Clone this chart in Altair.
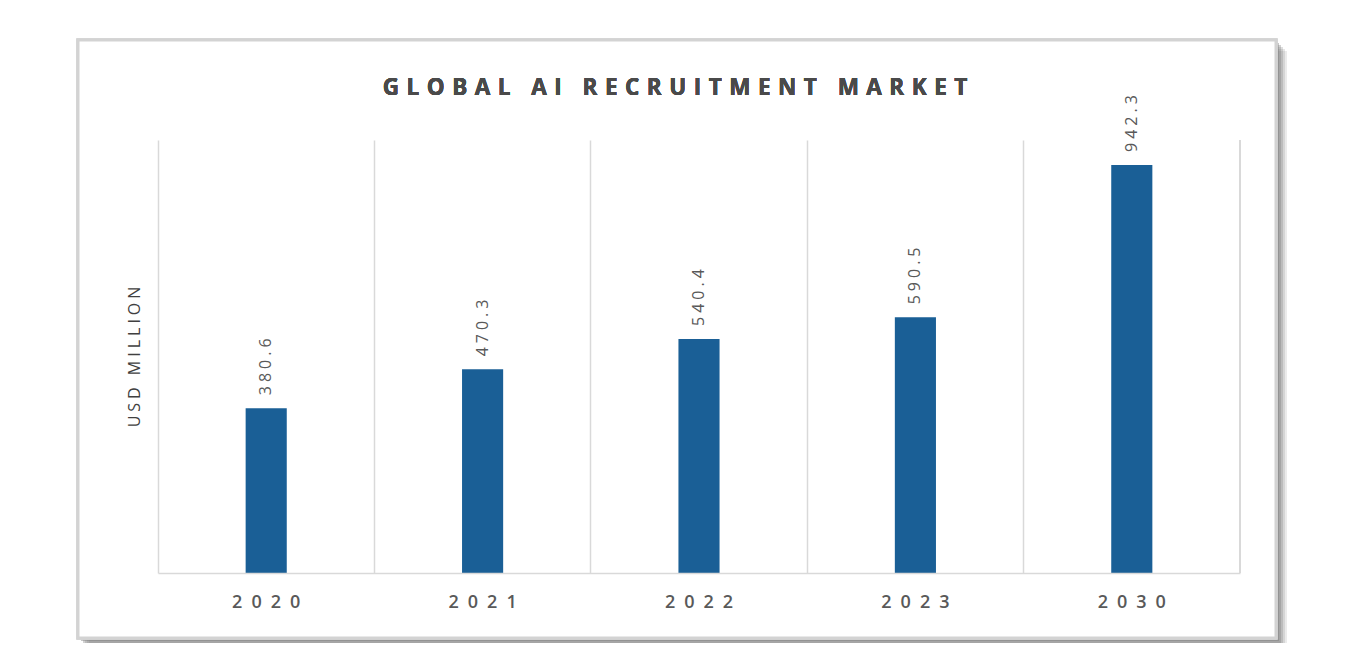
import altair as alt
import pandas as pd

years = ["2020", "2021", "2022", "2023", "2030"]
values = [380.6, 470.3, 540.4, 590.5, 942.3]
labels = ["380.6", "470.3", "540.4", "590.5", "942.3"]
title_text = "GLOBAL AI RECRUITMENT MARKET"
y_title = "USD MILLION"

# letter-spaced look (Vega text has no letterSpacing): join glyphs with narrow unicode spaces
def spaced(s, sp):
    return sp.join(list(s))

df = pd.DataFrame({
    "year": years,
    "value": values,
    "label": [spaced(l, "\u2005") for l in labels],
})

W, H = 1082, 433
FONT = "Open Sans"

base = alt.Chart(df)

# card frame with a soft shadow
shadow_layers = []
for i, op in enumerate([0.10, 0.08, 0.06, 0.04, 0.03]):
    off = 3 + i * 2
    shadow_layers.append(
        base.mark_rect(color="#808080", opacity=op).encode(
            x=alt.value(-80 + off), x2=alt.value(1118 + off),
            y=alt.value(-100 + off), y2=alt.value(498 + off),
        )
    )
frame = base.mark_rect(color="white", stroke="#d3d3d3", strokeWidth=3).encode(
    x=alt.value(-80), x2=alt.value(1118), y=alt.value(-100), y2=alt.value(498)
)

xenc = alt.X(
    "year:N", sort=years, title=None,
    scale=alt.Scale(paddingInner=0, paddingOuter=0),
    axis=alt.Axis(
        grid=True, bandPosition=0, gridColor="#d9d9d9", gridWidth=1.5,
        domainColor="#d9d9d9", domainWidth=1.5, ticks=False,
        labelFont=FONT, labelFontSize=18, labelColor="#595959",
        labelFontWeight=600,
        labelPadding=20, labelAngle=0, zindex=1,
        labelExpr="join(split(datum.label, ''), '\u2002')",
    ),
)
yenc = alt.Y(
    "value:Q", title=spaced(y_title, "\u2005"),
    scale=alt.Scale(domain=[0, 1000]),
    axis=alt.Axis(
        grid=False, labels=False, ticks=False, domain=False,
        titleFont=FONT, titleFontSize=16, titleFontWeight="normal",
        titleColor="#404040", titlePadding=16, zindex=1,
    ),
)

bars = base.mark_bar(color="#1a5f96", width=alt.RelativeBandSize(0.19)).encode(x=xenc, y=yenc)

text = base.mark_text(
    angle=270, align="left", baseline="middle", dx=13,
    font=FONT, fontSize=16, color="#595959",
).encode(x=alt.X("year:N", sort=years), y="value:Q", text="label:N")

right_edge = base.mark_rule(color="#d9d9d9", strokeWidth=1.5).encode(
    x=alt.value(W), y=alt.value(0), y2=alt.value(H)
)

title = base.mark_text(
    font=FONT, fontSize=22.5, fontWeight="bold", color="#4a4a4a",
    align="center", baseline="middle",
).encode(x=alt.value(517), y=alt.value(-52), text=alt.value(spaced(title_text, "\u2004")))

chart = alt.layer(
    *shadow_layers, frame, bars, right_edge, text, title
).properties(
    width=W, height=H,
    autosize=alt.AutoSizeParams(type="none"),
    padding={"left": 150, "top": 132, "right": 100, "bottom": 70},
).configure_view(stroke=None)

chart.save("out.html", embed_options={"renderer": "svg", "actions": False})
